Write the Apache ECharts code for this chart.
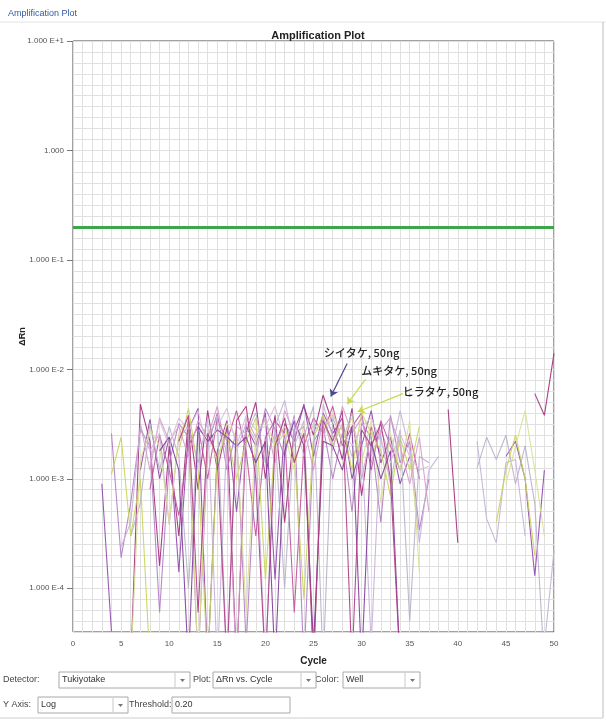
<!DOCTYPE html>
<html>
<head>
<meta charset="utf-8">
<script src="https://cdn.jsdelivr.net/npm/echarts@6/dist/echarts.min.js"></script>
<style>
html, body { margin: 0; padding: 0; background: #fff; }
#main { width: 606px; height: 722px; }
</style>
</head>
<body>
<div id="main"></div>
<script>
// cycles 3..50, one value (delta Rn) per cycle; negative = below zero (not drawn on log axis)
var cycles = [3,4,5,6,7,8,9,10, 11,12,13,14,15,16,17,18, 19,20,21,22,23,24,25,26, 27,28,29,30,31,32,33,34, 35,36,37,38,39,40,41,42, 43,44,45,46,47,48,49,50];

var wellA = [null,null,null,2e-5,4.8e-3,2.2e-3,1.6e-4,2.0e-3, 3.0e-4,3.6e-3,8e-4,4.2e-3,1.2e-3,3.0e-3,2e-5,2.6e-3, 5.0e-3,1.0e-3,3.8e-3,4e-4,2.8e-3,4.6e-3,2.5e-3,5.8e-3, 3.2e-3,1.5e-3,4.4e-3,7e-4,3.0e-3,1.6e-3,-1e-3,null, null,null,null,-1e-3,4.3e-3,2.6e-4,-1e-3,null, null,null,null,null,-1e-3,6e-3,3.8e-3,1.4e-2];
var wellB = [9e-4,4e-5,-1e-3,null,1.2e-3,3.5e-3,1.0e-3,2.4e-3, 1.4e-4,2.8e-3,4.4e-3,2e-5,1.8e-3,3.4e-3,5e-4,3.0e-3, 2.0e-3,4.0e-3,1.2e-4,3.2e-3,2.2e-3,4.8e-3,1.6e-3,4.0e-3, 2.6e-3,3.6e-3,1.0e-3,2.0e-3,4.2e-3,1.4e-3,2.4e-3,9e-4, 1.6e-3,-1e-3,null,null,null,null,null,null, null,-1e-3,1.6e-3,2.2e-3,1.0e-3,1.3e-4,1.2e-3,null];
var wellC = [null,null,null,null,null,8e-4,2.5e-3,1.2e-3, 4.6e-4,2.0e-3,3.0e-3,1.0e-3,3.6e-3,2.2e-3,4.2e-3,1.8e-3, 3.0e-4,2.4e-3,3.4e-3,2.6e-3,6e-5,2.0e-3,3.6e-3,2.6e-3, 4.6e-3,2.0e-3,3.0e-3,4.0e-3,1.2e-3,3.4e-3,2.0e-3,1.2e-3, 2.6e-3,1.0e-3,-1e-3,null,null,null,null,null, null,null,null,null,null,null,null,null];
var wellD = [null,2.6e-3,1.9e-4,6e-4,2.8e-3,2.0e-3,6e-5,1.4e-3, 3.2e-3,2.4e-3,2e-5,2.0e-3,4.0e-3,1.2e-3,2.8e-3,3e-5, 1.6e-3,4.4e-3,2.8e-3,1.6e-3,3.8e-3,2e-5,2.2e-3,3.0e-3, 1.0e-3,2.6e-3,5e-4,3.2e-3,2.4e-3,4e-4,3.8e-3,1.4e-3, 2.2e-3,3.4e-4,1.0e-3,-1e-3,null,null,null,null, null,null,null,null,null,null,null,null];
var wellE = [null,null,2.4e-4,4.0e-4,3.0e-3,1.8e-3,2.6e-3,3.8e-4, 2.4e-3,3.0e-3,1.4e-3,3.6e-3,2e-5,2.6e-3,1.8e-3,3.2e-3, 2.2e-3,2e-5,3.0e-3,5.2e-3,2.0e-3,3.4e-3,2e-5,4.8e-3, 2.4e-3,3.0e-3,1.6e-3,2.2e-3,3e-5,2.8e-3,1.6e-3,4.2e-3, 1.8e-3,2.6e-4,1.2e-3,1.6e-3,-1e-3,null,-1e-3,2.2e-3, 4.3e-4,2.6e-4,1.4e-3,1.5e-3,3e-4,-1e-3,3e-5,2.2e-4];
var wellF = [null,null,null,3e-4,6e-4,3.2e-3,1.2e-3,3.0e-3, 1.6e-3,1e-4,2.8e-3,2.4e-3,3.6e-3,2e-5,3.0e-3,2.6e-3, 4.0e-3,1.4e-3,2.6e-3,1e-4,3.0e-3,2.4e-3,4.6e-3,2e-5, 3.6e-3,2.2e-3,4.0e-3,1.0e-3,2.6e-3,2.4e-3,9e-4,2.8e-3, 5e-5,1.6e-3,1.4e-3,-1e-3,null,null,-1e-3,1.25e-3, 2.4e-3,1.5e-3,2.5e-3,9e-4,2.0e-3,6e-4,2e-5,null];
var wellG = [null,1.1e-3,2.4e-3,3e-4,1.0e-3,2e-5,-1e-3,null, 1.8e-3,4.4e-3,1.2e-3,2e-5,1.6e-3,2.6e-3,1.0e-3,2.2e-3, 3.6e-3,1.2e-4,2.2e-3,3.0e-3,1.6e-3,8e-5,2.4e-3,3.8e-3, 2.0e-3,3.2e-3,1.2e-3,4.0e-3,2.6e-3,1.8e-3,7e-4,2.4e-3, 1.2e-3,3.0e-3,-1e-3,null,null,null,null,null, -1e-3,4e-4,1.2e-3,2.5e-3,1.0e-3,2e-4,-1e-3,null];
var wellH = [null,null,null,2e-5,1.5e-3,2.8e-3,2.0e-3,4e-4, 2.6e-3,3.6e-3,2e-5,2.8e-3,1.4e-3,3.2e-3,2.4e-3,6e-5, 2.6e-3,3.4e-3,2.0e-3,2.6e-3,1.2e-3,3.2e-3,2e-5,2.8e-3, 4.0e-3,2.2e-3,3.6e-3,1.4e-3,3.4e-3,6e-4,2.6e-3,1.2e-3, 3.4e-3,1.4e-4,-1e-3,null,null,null,null,null, null,-1e-3,9e-4,2.0e-3,4.2e-3,1.2e-3,3e-4,null];
var wellI = [null,null,null,null,3.2e-3,1.2e-3,3.6e-3,2.2e-3, 3.0e-3,1.6e-3,3.4e-3,2.4e-3,4.6e-3,1.6e-3,2e-5,3.6e-3, 2.4e-3,3.6e-3,1.4e-3,4.2e-3,2.6e-3,3.0e-3,1.2e-3,3.6e-3, 1.8e-3,4.6e-3,2.6e-3,3.6e-3,1.4e-3,2.8e-3,3.6e-3,2.0e-3, 9e-4,2.4e-3,5e-4,-1e-3,null,null,null,null, null,null,null,null,null,null,null,null];
var wellJ = [null,null,null,null,null,null,1.8e-3,2.4e-3, 1.2e-3,2e-5,3.0e-3,2.2e-3,2.8e-3,2.4e-3,2.0e-3,2.4e-3, 1.4e-3,2.2e-3,2e-5,1.8e-3,3.4e-3,2.0e-3,3e-5,2.2e-3, 2.0e-3,1.2e-3,3.0e-3,2e-5,2.2e-3,1.0e-3,1.8e-3,2e-5, null,null,null,null,null,null,null,null, null,null,null,null,null,null,null,null];
var wellK = [null,null,null,null,null,1.4e-3,3.4e-3,2.0e-3, 3.6e-3,2.8e-3,4.2e-3,1.8e-3,3.0e-3,4.4e-3,2.0e-3,3.8e-3, 2.8e-3,3.0e-3,4.6e-3,2.2e-3,3.6e-3,1.6e-3,3.2e-3,2.4e-3, 3.8e-3,2.8e-3,2.0e-3,3.0e-3,3.6e-3,2.2e-3,1.4e-3,2.6e-3, 1.6e-3,1.2e-3,1.3e-3,-1e-3,null,null,null,null, null,null,null,null,null,null,null,null];
var wellL = [null,null,null,null,null,null,null,-1e-3, 2.2e-3,3.8e-3,6e-5,2.6e-3,1.6e-3,2e-5,3.4e-3,4.6e-3, 1.0e-3,2e-5,2.0e-3,3.6e-3,1.4e-3,2.6e-3,2e-5,3.4e-3, 2.2e-3,4.2e-3,2e-5,2.8e-3,2.0e-3,3.2e-3,1.0e-3,2e-5, null,null,null,null,null,null,null,null, null,null,null,null,null,null,null,null];

var wells = [
  { name: 'A', data: wellA, color: '#a22c7c' },
  { name: 'B', data: wellB, color: '#9048a8' },
  { name: 'C', data: wellC, color: '#c2509c' },
  { name: 'D', data: wellD, color: '#b27cc4' },
  { name: 'E', data: wellE, color: '#c4b0d8' },
  { name: 'F', data: wellF, color: '#b6b0c6' },
  { name: 'G', data: wellG, color: '#c6d458' },
  { name: 'H', data: wellH, color: '#d9df92' },
  { name: 'I', data: wellI, color: '#d49cc6' },
  { name: 'J', data: wellJ, color: '#7e3c98' },
  { name: 'K', data: wellK, color: '#d6bcdc' },
  { name: 'L', data: wellL, color: '#b03a86' }
];

var threshold = 0.20;
var yDecades = [-4, -3, -2, -1, 0, 1];

// annotation: label, text anchor [cycle, dRn], arrow start, arrow end, colour
var noteLabels = ['シイタケ, 50ng', 'ムキタケ, 50ng', 'ヒラタケ, 50ng'];
var noteText = [[30.0, 1.43e-2], [33.9, 9.6e-3], [38.2, 6.2e-3]];
var noteFrom = [[28.5, 1.13e-2], [30.4, 8.1e-3], [34.3, 6.0e-3]];
var noteTo = [[26.8, 5.65e-3], [28.5, 4.8e-3], [29.6, 4.1e-3]];
var noteColor = ['#4c4890', '#c9d84c', '#c9d84c'];

function lg(v) { return (v == null || v <= 0) ? '-' : Math.log10(v); }

function decadeLabel(v) {
  if (v === 0) return '1.000';
  return '1.000 E' + (v > 0 ? '+' : '') + v;
}

var myChart = echarts.init(document.getElementById('main'));

var series = wells.map(function (w) {
  return {
    name: w.name,
    type: 'line',
    showSymbol: false,
    symbol: 'none',
    clip: true,
    lineStyle: { width: 1.1, color: w.color, opacity: 0.9 },
    data: cycles.map(function (c, i) { return [c, lg(w.data[i])]; })
  };
});

series.push({
  name: 'notes',
  type: 'line',
  data: [],
  markLine: {
    silent: true,
    symbol: ['none', 'arrow'],
    symbolSize: 7,
    label: { show: false },
    data: noteFrom.map(function (p, i) {
      return [
        { coord: [p[0], lg(p[1])], lineStyle: { color: noteColor[i], width: 1.2, type: 'solid' } },
        { coord: [noteTo[i][0], lg(noteTo[i][1])] }
      ];
    }),
    animation: false
  },
  markPoint: {
    silent: true,
    symbol: 'circle',
    symbolSize: 1,
    itemStyle: { color: 'rgba(0,0,0,0)' },
    label: {
      show: true,
      position: 'inside',
      color: '#222',
      fontSize: 11,
      fontFamily: '"Noto Sans CJK JP"',
      fontWeight: 500
    },
    data: noteText.map(function (p, i) {
      return { coord: [p[0], lg(p[1])], value: noteLabels[i], label: { formatter: noteLabels[i] } };
    }),
    animation: false
  }
});

series.push({
  name: 'Threshold',
  type: 'line',
  data: [],
  markLine: {
    silent: true,
    symbol: 'none',
    label: { show: false },
    lineStyle: { color: '#3aa84a', width: 3, type: 'solid' },
    data: [{ yAxis: Math.log10(threshold) }],
    animation: false
  }
});

var uiFont = '9px "Liberation Sans"';

function combo(x, y, w, text, arrow) {
  var els = [
    { type: 'rect', shape: { x: x, y: y, width: w, height: 16 }, style: { fill: '#fff', stroke: '#a8a8a8', lineWidth: 1 } },
    { type: 'text', x: x + 3, y: y + 8, style: { text: text, fill: '#333', font: uiFont, verticalAlign: 'middle' } }
  ];
  if (arrow) {
    els.push({ type: 'line', shape: { x1: x + w - 15, y1: y + 1, x2: x + w - 15, y2: y + 15 }, style: { stroke: '#c8c8c8' } });
    els.push({ type: 'polygon', shape: { points: [[x + w - 10, y + 7], [x + w - 5, y + 7], [x + w - 7.5, y + 10]] }, style: { fill: '#777' } });
  }
  return els;
}

function label(x, y, text) {
  return { type: 'text', x: x, y: y, style: { text: text, fill: '#444', font: uiFont, verticalAlign: 'middle' } };
}

var graphics = [
  { type: 'text', x: 8, y: 14, style: { text: 'Amplification Plot', fill: '#2e5aa8', font: '9px "Liberation Sans"', verticalAlign: 'middle' } },
  { type: 'line', shape: { x1: 0, y1: 22, x2: 606, y2: 22 }, style: { stroke: '#e4e4e4' } },
  { type: 'line', shape: { x1: 603, y1: 22, x2: 603, y2: 718 }, style: { stroke: '#bdbdbd' } },
  { type: 'line', shape: { x1: 0, y1: 718, x2: 603, y2: 718 }, style: { stroke: '#cfcfcf' } },
  label(3, 680, 'Detector:'),
  label(193, 680, 'Plot:'),
  label(315, 680, 'Color:'),
  label(3, 705, 'Y Axis:'),
  label(129, 705, 'Threshold:')
].concat(
  combo(59, 672, 131, 'Tukiyotake', true),
  combo(213, 672, 103, 'ΔRn vs. Cycle', true),
  combo(343, 672, 77, 'Well', true),
  combo(38, 697, 90, 'Log', true),
  combo(172, 697, 118, '0.20', false)
);

var gridColor = '#e0e0e0';

var option = {
  animation: false,
  backgroundColor: '#fff',
  title: {
    text: 'Amplification Plot',
    left: 313,
    textAlign: 'center',
    top: 25,
    textStyle: { fontSize: 11, fontWeight: 'bold', color: '#222', fontFamily: '"Liberation Sans"' }
  },
  grid: {
    left: 73, right: 52, top: 41, bottom: 90,
    show: true, borderColor: '#444', borderWidth: 1, backgroundColor: '#fff'
  },
  xAxis: {
    type: 'value',
    min: 0, max: 50, interval: 5,
    name: 'Cycle',
    nameLocation: 'middle',
    nameGap: 24,
    nameTextStyle: { fontSize: 10, fontWeight: 'bold', color: '#222', fontFamily: '"Liberation Sans"' },
    axisLine: { show: false },
    axisTick: { show: false },
    axisLabel: { fontSize: 8, color: '#555', margin: 8, fontFamily: '"Liberation Sans"' },
    splitLine: { show: true, lineStyle: { color: gridColor, width: 1 } },
    minorTick: { show: false, splitNumber: 5 },
    minorSplitLine: { show: true, lineStyle: { color: gridColor, width: 1 } }
  },
  yAxis: [
    {
      type: 'value',
      min: -4.4, max: 1, interval: 0.1,
      axisLine: { show: false },
      axisTick: { show: false },
      axisLabel: { show: false },
      splitLine: { show: true, lineStyle: { color: gridColor, width: 1 } }
    },
    {
      type: 'value',
      min: -4.4, max: 1,
      position: 'left',
      name: 'ΔRn',
      nameLocation: 'middle',
      nameGap: 46,
      nameMoveOverlap: false,
      nameRotate: 90,
      nameTextStyle: { fontSize: 9, fontWeight: 'bold', color: '#222', fontFamily: '"Liberation Sans"' },
      axisLine: { show: false },
      axisTick: { show: true, length: 6, customValues: yDecades, lineStyle: { color: '#777' } },
      axisLabel: {
        customValues: yDecades,
        fontSize: 8, color: '#555', margin: 9, fontFamily: '"Liberation Sans"',
        formatter: function (v) { return decadeLabel(Math.round(v)); }
      },
      splitLine: { show: false }
    }
  ],
  series: series,
  graphic: graphics
};

myChart.setOption(option);
window.onresize = function () {
  myChart.resize();
};
</script>
</body>
</html>
